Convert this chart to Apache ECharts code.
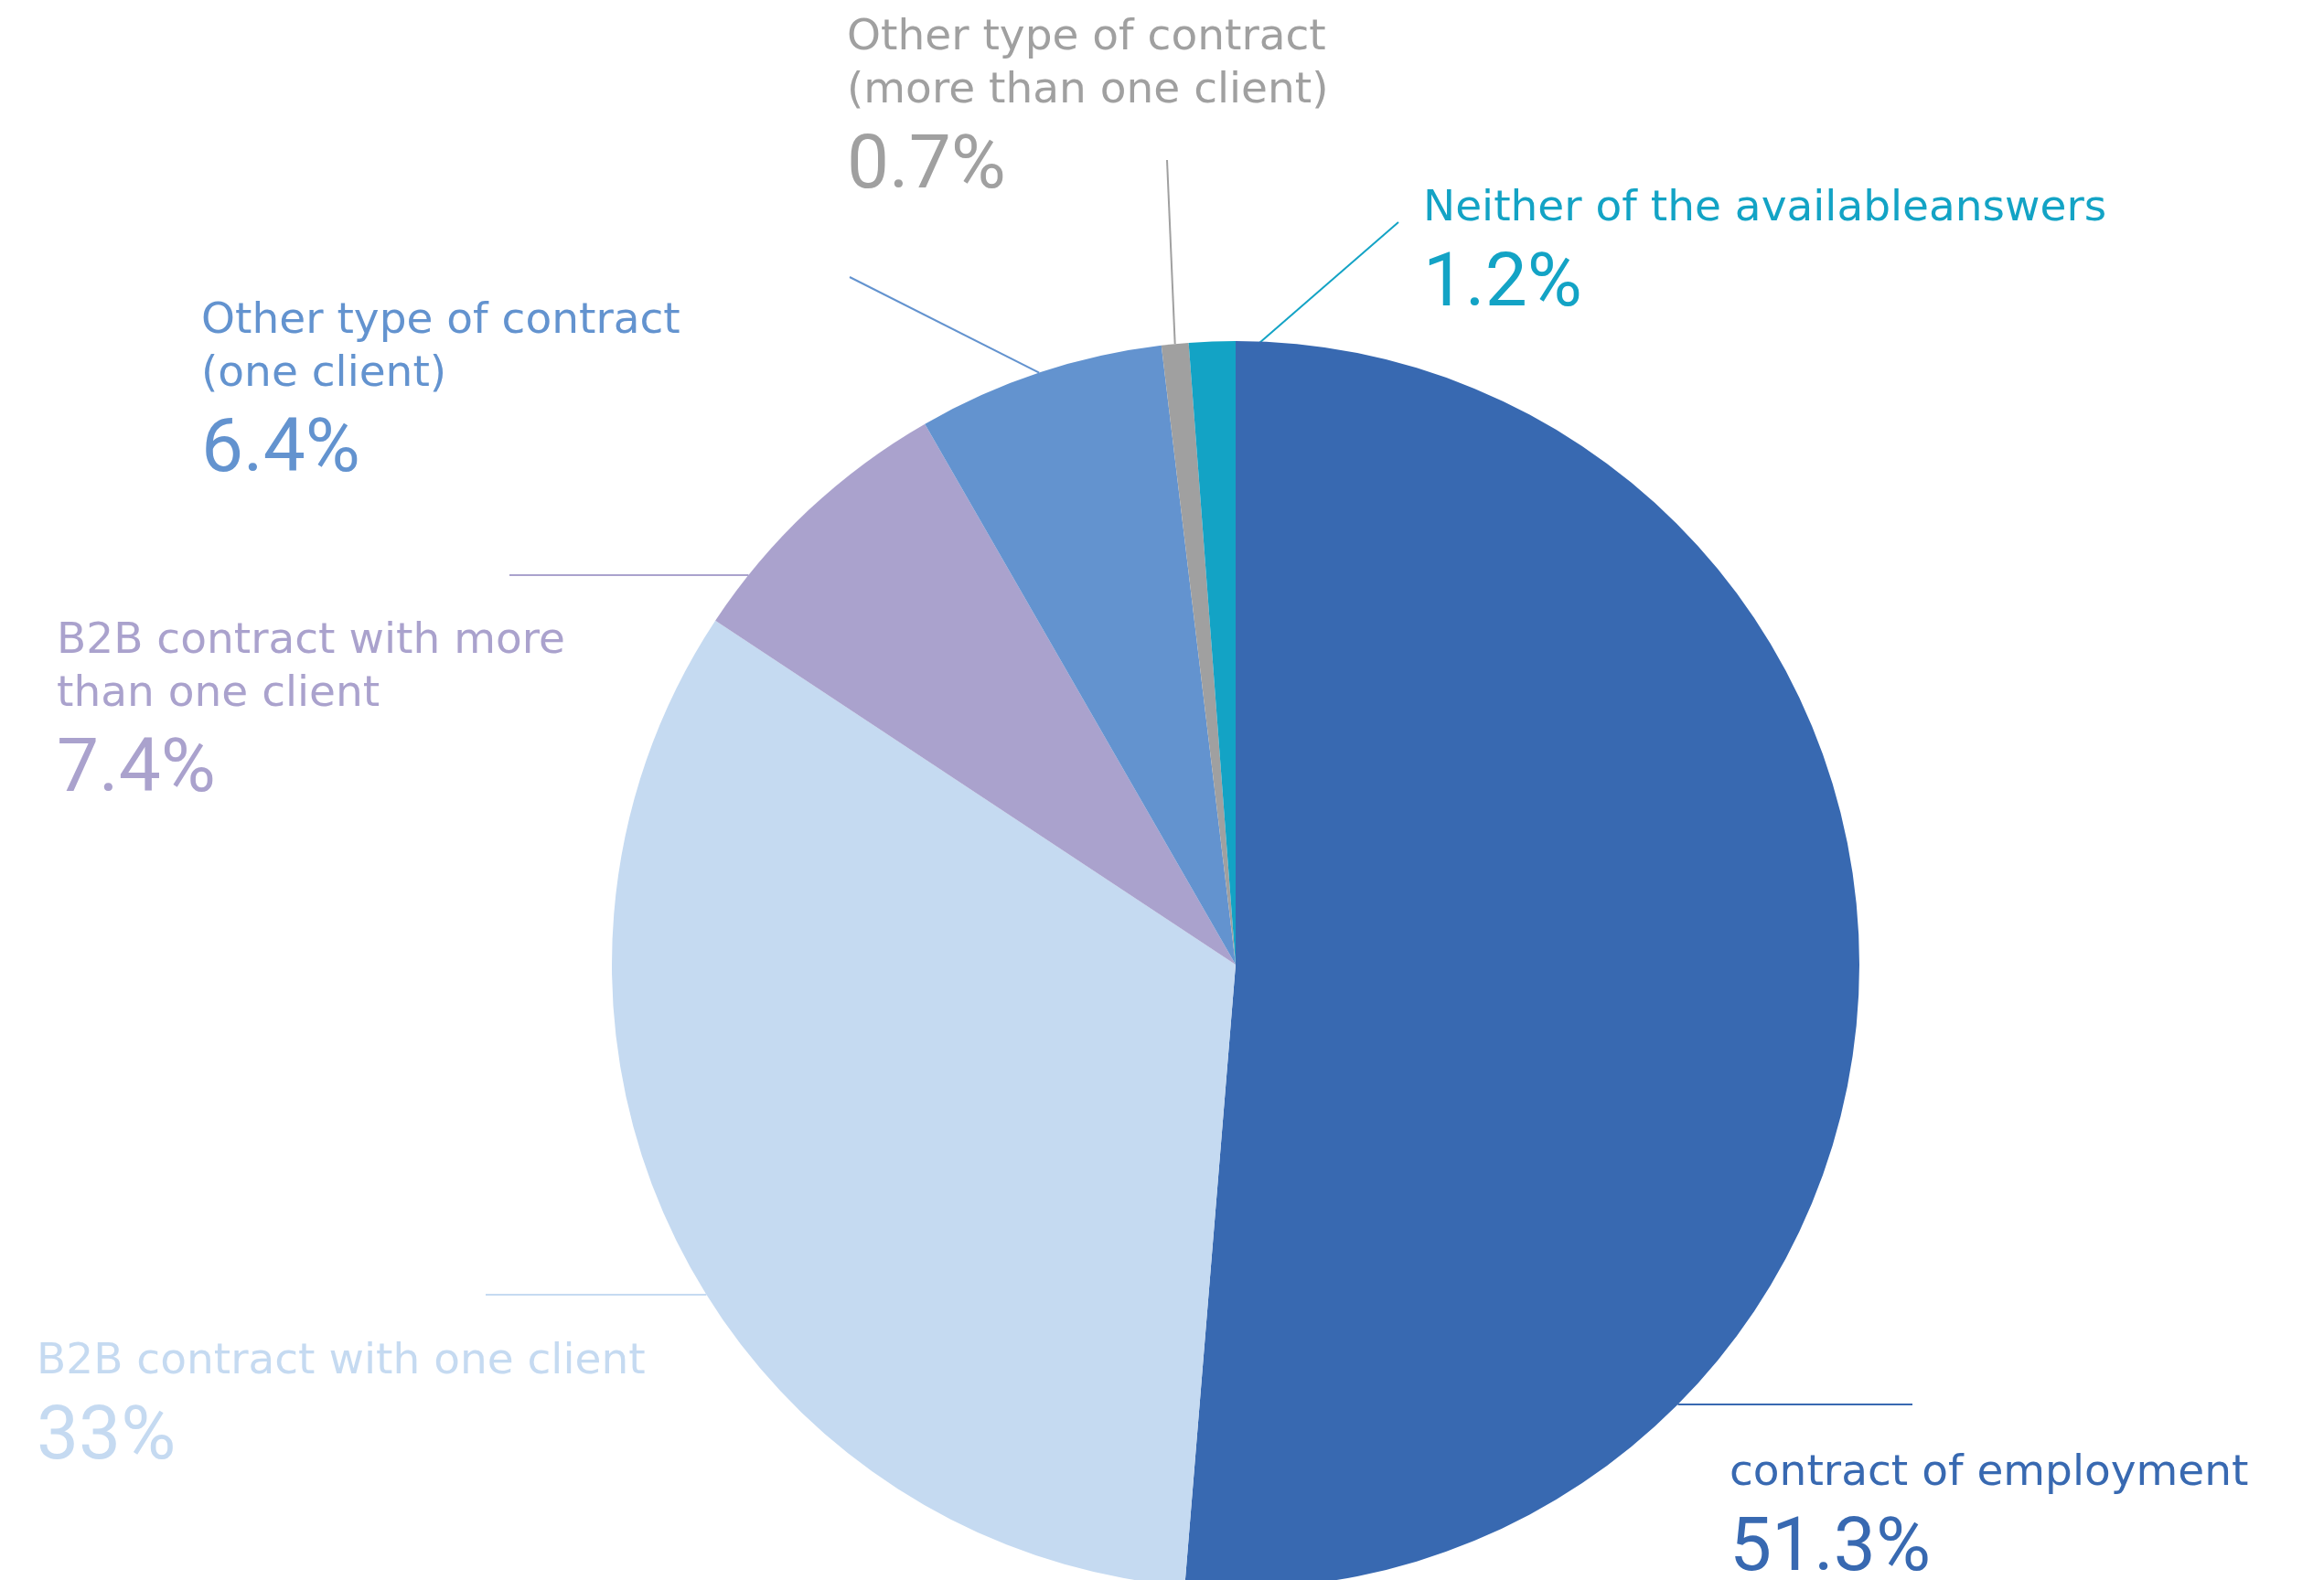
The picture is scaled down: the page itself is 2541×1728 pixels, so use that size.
<!DOCTYPE html>
<html>
<head>
<meta charset="utf-8">
<script src="https://cdn.jsdelivr.net/npm/echarts@6/dist/echarts.min.js"></script>
<style>
  html, body { margin: 0; padding: 0; background: #ffffff; }
  #chart { width: 2541px; height: 1728px; }
</style>
</head>
<body>
<div id="chart"></div>
<script>
// Survey: type of contract (share of respondents, %)
const categories = [
  'contract of employment',
  'B2B contract with one client',
  'B2B contract with more than one client',
  'Other type of contract (one client)',
  'Other type of contract (more than one client)',
  'Neither of the availableanswers'
];
// label text, split into the lines it is printed on
const labelText = [
  ['contract of employment'],
  ['B2B contract with one client'],
  ['B2B contract with more', 'than one client'],
  ['Other type of contract', '(one client)'],
  ['Other type of contract', '(more than one client)'],
  ['Neither of the availableanswers']
];
const shares = [51.3, 33, 7.4, 6.4, 0.7, 1.2];
const colors = ['#3869B1', '#C5DAF1', '#AAA2CD', '#6393CF', '#A0A0A0', '#13A3C5'];

// pie geometry (px)
const CX = 1351, CY = 1055, R = 682;
const NAME_FONT = '"DejaVu Sans", "Noto Sans", sans-serif';
const PCT_FONT = 'Roboto, "Noto Sans", sans-serif';

// label anchors and leader lines: horizontal leaders meet the rim at edgeY,
// the others run to the slice's mid angle at rf * radius
const place = [
  { x: 1891, y: 1583, end: [2091, 1536], edgeY: 1536, side: 1 },
  { x: 40,   y: 1461, end: [531, 1416],  edgeY: 1416, side: -1 },
  { x: 62,   y: 673,  end: [557, 629],   edgeY: 629,  side: -1 },
  { x: 220,  y: 323,  end: [929, 303],   rf: 1.0 },
  { x: 926,  y: 13,   end: [1276, 175],  rf: 1.0 },
  { x: 1556, y: 200,  end: [1529, 243],  rf: 0.934 }
];

// mid angle of each slice, clockwise from 12 o'clock
const total = shares.reduce((a, b) => a + b, 0);
const midAngle = [];
let acc = 0;
shares.forEach(v => { midAngle.push((acc + v / 2) / total * Math.PI * 2); acc += v; });

const data = categories.map((name, i) => ({
  name: name,
  value: shares[i],
  itemStyle: { color: colors[i] },
  label: {
    formatter: labelText[i].map(t => '{n|' + t + '}').join('\n') + '\n{p|' + shares[i] + '%}',
    rich: {
      n: { color: colors[i], fontFamily: NAME_FONT, fontSize: 47, lineHeight: 58 },
      p: { color: colors[i], fontFamily: PCT_FONT, fontSize: 82, lineHeight: 110 }
    }
  },
  labelLine: { lineStyle: { color: colors[i], width: 2 } }
}));

const chart = echarts.init(document.getElementById('chart'), null, { renderer: 'canvas' });
chart.setOption({
  backgroundColor: '#ffffff',
  animation: false,
  series: [{
    type: 'pie',
    center: [CX, CY],
    radius: R,
    startAngle: 90,
    clockwise: true,
    avoidLabelOverlap: false,
    data: data,
    label: {
      show: true,
      position: 'outside',
      width: 1000,
      overflow: 'none',
      fontFamily: NAME_FONT
    },
    labelLine: { show: true, smooth: false },
    labelLayout: function (p) {
      const L = place[p.dataIndex];
      let inner;
      if (L.edgeY != null) {
        const dy = L.edgeY - CY;
        const dx = Math.sqrt(R * R - dy * dy);
        inner = [CX + L.side * dx, L.edgeY];
      } else {
        const a = midAngle[p.dataIndex];
        inner = [CX + L.rf * R * Math.sin(a), CY - L.rf * R * Math.cos(a)];
      }
      return {
        x: L.x, y: L.y, align: 'left', verticalAlign: 'top',
        labelLinePoints: [L.end, L.end, inner]
      };
    }
  }]
});
</script>
</body>
</html>
